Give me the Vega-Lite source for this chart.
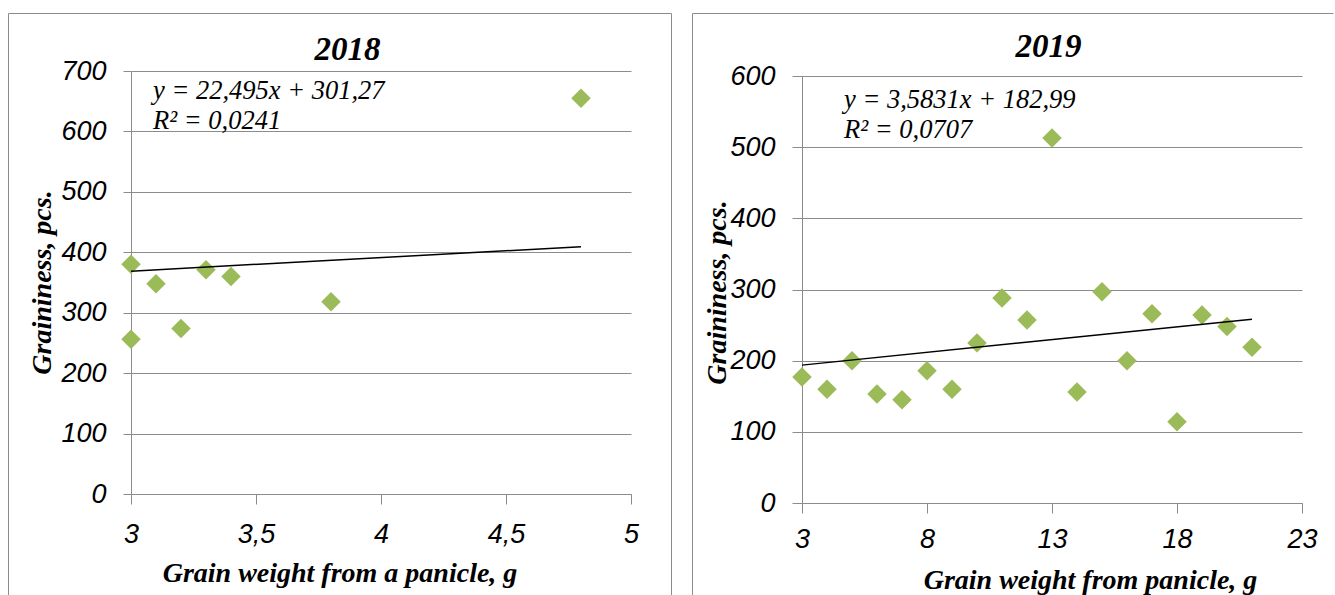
{
  "$schema": "https://vega.github.io/schema/vega-lite/v6.json",
  "padding": {"left": 7, "top": 12, "right": 0, "bottom": 0},
  "background": "white",
  "spacing": 19,
  "datasets": {
    "pts2018": [
      {"weight": 3.0, "grains": 380},
      {"weight": 3.0, "grains": 256},
      {"weight": 3.1, "grains": 348},
      {"weight": 3.2, "grains": 274},
      {"weight": 3.3, "grains": 371},
      {"weight": 3.4, "grains": 360},
      {"weight": 3.8, "grains": 318},
      {"weight": 4.8, "grains": 655}
    ],
    "trend2018": [
      {"weight": 3.0, "grains": 368.755},
      {"weight": 4.8, "grains": 409.246}
    ],
    "pts2019": [
      {"weight": 3, "grains": 177},
      {"weight": 4, "grains": 160},
      {"weight": 5, "grains": 200},
      {"weight": 6, "grains": 153},
      {"weight": 7, "grains": 145},
      {"weight": 8, "grains": 186},
      {"weight": 9, "grains": 160},
      {"weight": 10, "grains": 225},
      {"weight": 11, "grains": 288},
      {"weight": 12, "grains": 257},
      {"weight": 13, "grains": 513},
      {"weight": 14, "grains": 156},
      {"weight": 15, "grains": 297},
      {"weight": 16, "grains": 200},
      {"weight": 17, "grains": 266},
      {"weight": 18, "grains": 114},
      {"weight": 19, "grains": 264},
      {"weight": 20, "grains": 248},
      {"weight": 21, "grains": 219}
    ],
    "trend2019": [
      {"weight": 3, "grains": 193.739},
      {"weight": 21, "grains": 258.235}
    ]
  },
  "config": {
    "font": "Liberation Sans",
    "view": {"stroke": "#8c8c8c", "strokeWidth": 1},
    "axis": {
      "gridColor": "#8c8c8c",
      "gridOpacity": 1,
      "gridWidth": 1,
      "domainColor": "#8c8c8c",
      "domainWidth": 1,
      "tickColor": "#8c8c8c",
      "tickWidth": 1,
      "labelFont": "Liberation Sans",
      "labelFontStyle": "italic",
      "labelFontSize": 27,
      "labelColor": "black",
      "labelFlush": false,
      "labelOverlap": false,
      "titleFont": "Liberation Serif",
      "titleFontStyle": "italic",
      "titleFontWeight": "bold",
      "titleFontSize": 28,
      "titleColor": "black",
      "titleAlign": "center",
      "titleBaseline": "alphabetic"
    }
  },
  "hconcat": [
    {
      "width": 663,
      "height": 582,
      "view": {"stroke": "#8c8c8c", "strokeDash": [1245, 663, 582, 0]},
      "title": {
        "text": "2018",
        "font": "Liberation Serif",
        "fontSize": 33,
        "fontStyle": "italic",
        "fontWeight": "bold",
        "color": "black",
        "anchor": "middle",
        "frame": "group",
        "baseline": "alphabetic",
        "offset": -80,
        "dx": 8
      },
      "layer": [
        {
          "data": {"name": "pts2018"},
          "mark": {"type": "point", "shape": "diamond", "filled": true, "size": 380, "color": "#9BBB59", "opacity": 1},
          "encoding": {
            "x": {
              "field": "weight", "type": "quantitative",
              "scale": {"domain": [3, 5], "range": [123, 623], "nice": false, "zero": false},
              "axis": {
                "title": "Grain weight from a panicle, g",
                "values": [3, 3.5, 4, 4.5, 5],
                "labelExpr": "replace('' + datum.value, '.', ',')",
                "offset": -101,
                "grid": false,
                "tickSize": 10,
                "labelPadding": 17,
                "titleX": 331.5,
                "titleY": 87
              }
            },
            "y": {
              "field": "grains", "type": "quantitative",
              "scale": {"domain": [0, 700], "range": [481, 58], "nice": false, "zero": true},
              "axis": {
                "title": "Graininess, pcs.",
                "values": [0, 100, 200, 300, 400, 500, 600, 700],
                "offset": -123,
                "grid": true,
                "tickSize": 8,
                "labelPadding": 17,
                "titleAngle": -90,
                "titleX": -81,
                "titleY": 269
              }
            }
          }
        },
        {
          "data": {"name": "trend2018"},
          "mark": {"type": "line", "color": "black", "strokeWidth": 1.5},
          "encoding": {
            "x": {"field": "weight", "type": "quantitative"},
            "y": {"field": "grains", "type": "quantitative"}
          }
        },
        {
          "data": {"values": [{}]},
          "mark": {"type": "text", "align": "left", "baseline": "alphabetic", "font": "Liberation Serif", "fontStyle": "italic", "fontSize": 26.5, "lineHeight": 30, "color": "black"},
          "encoding": {
            "x": {"datum": 3.088},
            "y": {"datum": 654},
            "text": {"value": ["y = 22,495x + 301,27", "R² = 0,0241"]}
          }
        }
      ]
    },
    {
      "width": 641,
      "height": 582,
      "view": {"stroke": "#8c8c8c", "strokeDash": [641, 1223, 582, 0]},
      "title": {
        "text": "2019",
        "font": "Liberation Serif",
        "fontSize": 33,
        "fontStyle": "italic",
        "fontWeight": "bold",
        "color": "black",
        "anchor": "middle",
        "frame": "group",
        "baseline": "alphabetic",
        "offset": -77,
        "dx": 36
      },
      "layer": [
        {
          "data": {"name": "pts2019"},
          "mark": {"type": "point", "shape": "diamond", "filled": true, "size": 380, "color": "#9BBB59", "opacity": 1},
          "encoding": {
            "x": {
              "field": "weight", "type": "quantitative",
              "scale": {"domain": [3, 23], "range": [110, 610], "nice": false, "zero": false},
              "axis": {
                "title": "Grain weight from panicle, g",
                "values": [3, 8, 13, 18, 23],
                "offset": -92,
                "grid": false,
                "tickSize": 10,
                "labelPadding": 13,
                "titleX": 398,
                "titleY": 85
              }
            },
            "y": {
              "field": "grains", "type": "quantitative",
              "scale": {"domain": [0, 600], "range": [490, 63], "nice": false, "zero": true},
              "axis": {
                "title": "Graininess, pcs.",
                "values": [0, 100, 200, 300, 400, 500, 600],
                "offset": -110,
                "grid": true,
                "tickSize": 10,
                "labelPadding": 17,
                "titleAngle": -90,
                "titleX": -77,
                "titleY": 279
              }
            }
          }
        },
        {
          "data": {"name": "trend2019"},
          "mark": {"type": "line", "color": "black", "strokeWidth": 1.5},
          "encoding": {
            "x": {"field": "weight", "type": "quantitative"},
            "y": {"field": "grains", "type": "quantitative"}
          }
        },
        {
          "data": {"values": [{}]},
          "mark": {"type": "text", "align": "left", "baseline": "alphabetic", "font": "Liberation Serif", "fontStyle": "italic", "fontSize": 26.5, "lineHeight": 30, "color": "black"},
          "encoding": {
            "x": {"datum": 4.68},
            "y": {"datum": 555},
            "text": {"value": ["y = 3,5831x + 182,99", "R² = 0,0707"]}
          }
        }
      ]
    }
  ]
}
